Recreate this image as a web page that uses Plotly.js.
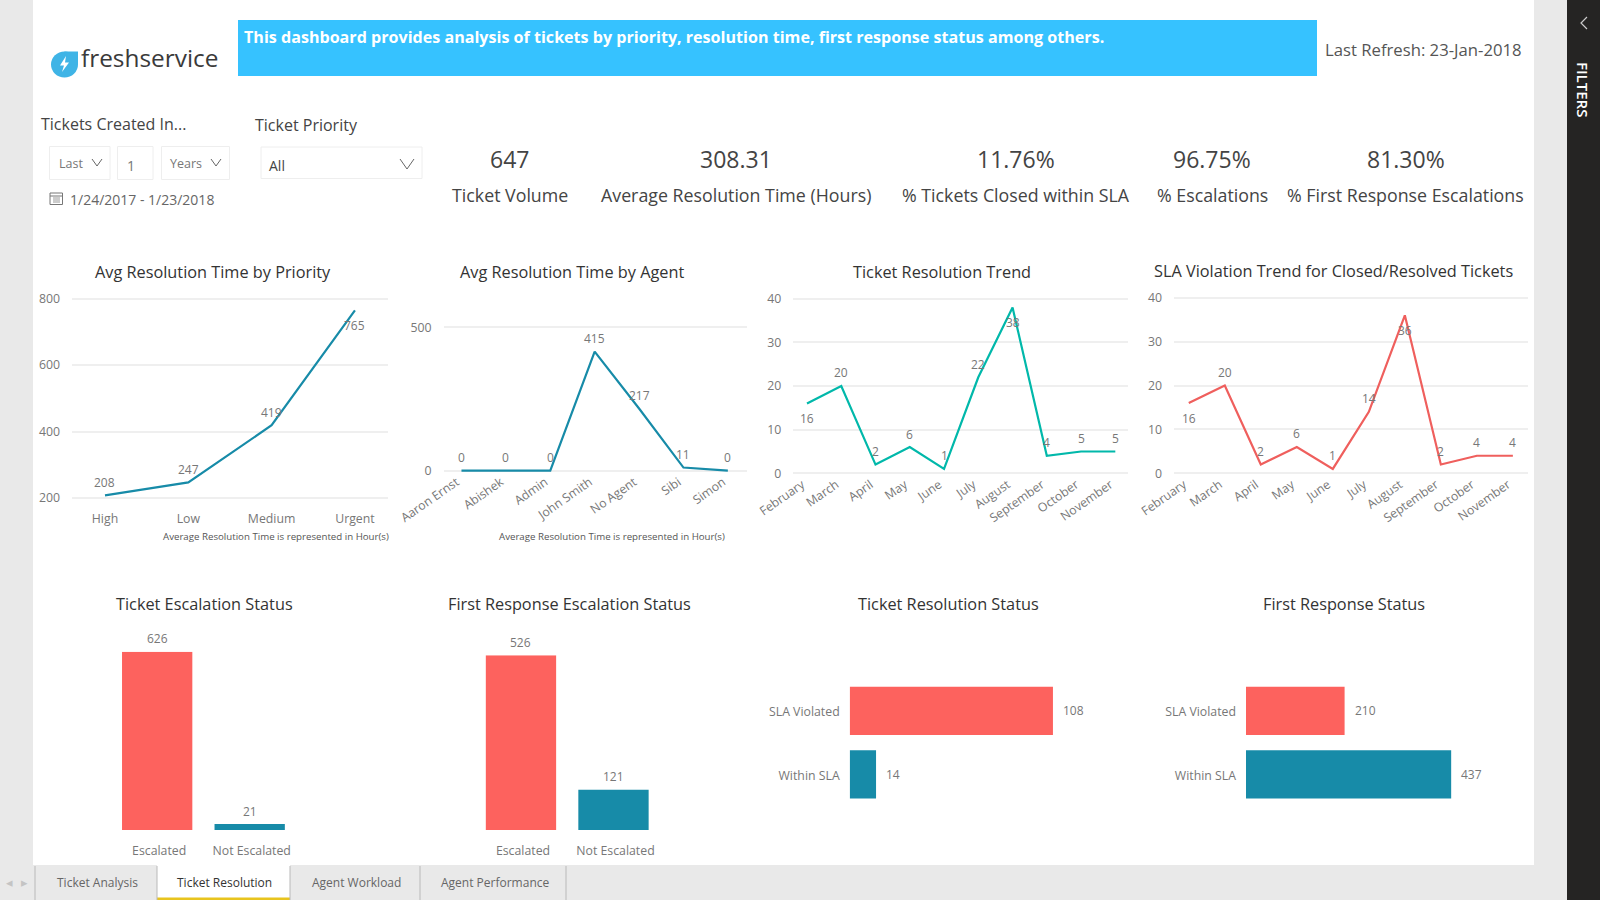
<!DOCTYPE html>
<html><head><meta charset="utf-8">
<script src="https://cdn.plot.ly/plotly-3.0.1.min.js"></script>
<style>html,body{margin:0;padding:0;background:#e9e9e9;overflow:hidden}#g{width:1600px;height:900px}</style>
</head><body><div id="g"></div>
<script>
// ---- data ----
var priorityCats = ['High','Low','Medium','Urgent'];
var priorityHours = [208,247,419,765];
var agentCats = ['Aaron Ernst','Abishek','Admin','John Smith','No Agent','Sibi','Simon'];
var agentHours = [0,0,0,415,217,11,0];
var monthCats = ['February','March','April','May','June','July','August','September','October','November'];
var resolutionTrend = [16,20,2,6,1,22,38,4,5,5];
var slaTrend = [16,20,2,6,1,14,36,2,4,4];
var escCats = ['Escalated','Not Escalated'];
var ticketEsc = [626,21];
var firstEsc = [526,121];
var slaCats = ['SLA Violated','Within SLA'];
var resolutionStatus = [108,14];
var firstStatus = [210,437];
var kpiValues = ['647','308.31','11.76%','96.75%','81.30%'];
var kpiNames = ['Ticket Volume','Average Resolution Time (Hours)','% Tickets Closed within SLA','% Escalations','% First Response Escalations'];
var tabNames = ['Ticket Analysis','Ticket Resolution','Agent Workload','Agent Performance'];

// ---- style ----
var FONT='"Open Sans","Noto Sans",sans-serif', BLUE='#178ba8', TEAL='#01b8aa', RED='#fd625e', REDLINE='#ef5f5d', GRID='#efefef', TICK='#777777', TS=12.3;
var W=1600,H=900;
function px(x){return x/W} function py(y){return 1-y/H}
var layout={width:W,height:H,margin:{l:0,r:0,t:0,b:0},paper_bgcolor:'#e9e9e9',plot_bgcolor:'rgba(0,0,0,0)',showlegend:false,
  font:{family:FONT,color:TICK,size:12},shapes:[],annotations:[],hovermode:false};
var traces=[];
function rect(x0,y0,x1,y1,fill,line){layout.shapes.push({type:'rect',xref:'paper',yref:'paper',layer:'below',x0:px(x0),x1:px(x1),y0:py(y1),y1:py(y0),fillcolor:fill,line:line?{color:line,width:1}:{width:0}});}
function pth(d,color,w,fill){layout.shapes.push({type:'path',xref:'paper',yref:'paper',layer:'below',path:d.replace(/(-?[\d.]+),(-?[\d.]+)/g,function(m,a,b){return px(+a)+','+py(+b)}),line:{color:color,width:w},fillcolor:fill||'rgba(0,0,0,0)'});}
function chev(cx,cy,s,h){pth('M'+(cx-s)+','+(cy-h)+' L'+cx+','+(cy+h)+' L'+(cx+s)+','+(cy-h),'#666',1);}
function T(t,x,y,size,color,anchor,extra){layout.annotations.push(Object.assign({text:t,xref:'paper',yref:'paper',x:px(x),y:py(y),xanchor:anchor||'center',yanchor:'middle',showarrow:false,borderpad:0,font:{family:FONT,size:size,color:color}},extra||{}));}

var axN=0;
function axes(xd,yd,xr,yr,xo,yo){axN++;var s=axN===1?'':axN;
  layout['xaxis'+s]=Object.assign({domain:[px(xd[0]),px(xd[1])],range:xr,anchor:'y'+s,showgrid:false,zeroline:false,showline:false,ticks:'',fixedrange:true,tickfont:{size:TS,color:TICK,family:FONT}},xo||{});
  layout['yaxis'+s]=Object.assign({domain:[py(yd[1]),py(yd[0])],range:yr,anchor:'x'+s,showgrid:false,zeroline:false,showline:false,ticks:'',fixedrange:true,tickfont:{size:TS,color:TICK,family:FONT}},yo||{});
  return s;}
function lineChart(cats,vals,color,xd,yd,xr,yr,dtick,below,tickangle,stand,shift){
  var u=(yr[1]-yr[0])/(yd[1]-yd[0]),pad=3;
  var s=axes(xd,[yd[0]-pad,yd[1]+pad],xr,[yr[0]-pad*u,yr[1]+pad*u],{type:'category',tickangle:tickangle,ticklabelstandoff:stand,ticklabelshift:shift,automargin:false},{tickmode:'linear',tick0:yr[0],dtick:dtick,showgrid:true,gridcolor:GRID,gridwidth:2,ticklabelstandoff:11});
  traces.push({type:'scatter',mode:'lines',x:cats,y:vals,xaxis:'x'+s,yaxis:'y'+s,line:{color:color,width:2.2,shape:'linear'},cliponaxis:false});
  vals.forEach(function(v,i){var b=below.indexOf(i)>=0;
    layout.annotations.push({text:String(v),x:cats[i],y:v,xref:'x'+s,yref:'y'+s,showarrow:false,yanchor:'middle',xanchor:'center',yshift:b?-15:13,borderpad:0,font:{size:12,color:TICK,family:FONT}});});
}
function colChart(cats,vals,xd,yd,xr,yr){
  var s=axes(xd,yd,xr,yr,{type:'category',ticklabelstandoff:12,ticklabelshift:2},{showticklabels:false});
  traces.push({type:'bar',x:cats,y:vals,xaxis:'x'+s,yaxis:'y'+s,width:0.76,marker:{color:[RED,BLUE]},cliponaxis:false});
  vals.forEach(function(v,i){layout.annotations.push({text:String(v),x:cats[i],y:v,xref:'x'+s,yref:'y'+s,showarrow:false,yanchor:'middle',xanchor:'center',yshift:13,borderpad:0,font:{size:12,color:TICK,family:FONT}});});
}
function barChart(cats,vals,xd,yd,xr,yr){
  var s=axes(xd,yd,xr,yr,{showticklabels:false},{type:'category',ticklabelstandoff:9,ticklabelshift:-1});
  traces.push({type:'bar',orientation:'h',x:vals,y:cats,xaxis:'x'+s,yaxis:'y'+s,width:0.76,marker:{color:[RED,BLUE]},cliponaxis:false});
  vals.forEach(function(v,i){layout.annotations.push({text:String(v),x:v,y:cats[i],xref:'x'+s,yref:'y'+s,showarrow:false,yanchor:'middle',xanchor:'left',xshift:9,borderpad:0,font:{size:12,color:TICK,family:FONT}});});
}

// ---- page chrome ----
rect(33,0,1534,865,'#ffffff');
rect(0,865,1567,900,'#e9e9e9');
rect(1567,0,1600,900,'#252423');
rect(157,865,290,900,'#ffffff');
rect(157,897.5,290,900,'#e8c41e');
[35,157,290,420,566].forEach(function(x){pth('M'+x+',866 L'+x+',900','#b9b9b9',1);});
var tabX=[97,224,356,495];
tabNames.forEach(function(t,i){T(t,tabX[i],882.5,12,i===1?'#333333':'#666666');});
T('◂',9,882,13,'#c4c4c4');T('▸',24,882,13,'#c4c4c4');
// banner
rect(238,20,1317,76,'#36c2ff');
T('This dashboard provides analysis of tickets by priority, resolution time, first response status among others.',243,36.5,16.1,'#ffffff','left',{font:{family:FONT,size:16.1,color:'#ffffff',weight:700}});
T('Last Refresh: 23-Jan-2018',1523,49.5,16.7,'#555555','right');
// logo
layout.shapes.push({type:'circle',xref:'paper',yref:'paper',layer:'below',x0:px(51),x1:px(78),y0:py(77.5),y1:py(51.5),fillcolor:'#3fb4e6',line:{width:0}});
rect(64.5,51.5,78,64.5,'#3fb4e6');
pth('M66,56 L60,65.5 L64,65.5 L62,72 L69,62.5 L65,62.5 Z','#ffffff',0,'#ffffff');
T('freshservice',80,57.5,24.4,'#3a3a3a','left');
// slicers
T('Tickets Created In...',39.5,124.5,16,'#444444','left');
T('Ticket Priority',254,125,16,'#444444','left');
rect(49.5,146.5,110,179.5,'#ffffff','#eeeeee');
rect(117.5,146.5,153,179.5,'#ffffff','#eeeeee');
rect(161.5,146.5,229.5,179.5,'#ffffff','#eeeeee');
rect(261,147,422,178.5,'#ffffff','#eeeeee');
T('Last',58,163.5,12.5,'#777777','left');T('1',131,165,14,'#777777');T('Years',168.5,163.5,12.5,'#777777','left');
chev(97,162.5,5,3.5);chev(216,162.5,5,3.5);chev(407,164,7,5);
T('All',268,165.5,14,'#444444','left');
rect(50,193,62.5,204.5,'#ffffff','#777777');
pth('M50,196 L62.5,196','#777777',1);pth('M53,198 L60,198 M53,200 L60,200 M53,202 L60,202','#999999',1);
T('1/24/2017 - 1/23/2018',69,199,14,'#666666','left');
// KPIs
var kpiX=[510,736,1016,1212,1405.5];
kpiValues.forEach(function(v,i){T(v,kpiX[i],159.5,23,'#444444');T(kpiNames[i],kpiX[i],195.5,17.8,'#444444');});
// sidebar
T('FILTERS',1583,89,15,'#ffffff','center',{textangle:90,font:{family:FONT,size:15,color:'#ffffff',weight:600}});
pth('M1587,17 L1581,23 L1587,29','#cccccc',1.2);
// titles
[['Avg Resolution Time by Priority',213.5,272.3],['Avg Resolution Time by Agent',571.5,272.3],['Ticket Resolution Trend',942.3,272],['SLA Violation Trend for Closed/Resolved Tickets',1333,271.3],
 ['Ticket Escalation Status',205,604],['First Response Escalation Status',569,604],['Ticket Resolution Status',948.4,604],['First Response Status',1344.3,604]].forEach(function(t){T(t[0],t[1],t[2],16.3,'#333333');});
T('Average Resolution Time is represented in Hour(s)',275.5,536.5,9.7,'#555555');
T('Average Resolution Time is represented in Hour(s)',612,536.5,9.7,'#555555');

// ---- charts ----
lineChart(priorityCats,priorityHours,BLUE,[72,388],[298.7,498],[-0.396,3.397],[200,800],200,[3],0,9,0);
lineChart(agentCats,agentHours,BLUE,[443.5,746.5],[327.3,470.7],[-0.405,6.42],[0,500],500,[],-35,-2,-5);
lineChart(monthCats,resolutionTrend,TEAL,[793.4,1128],[298.7,473.3],[-0.397,9.37],[0,40],10,[0,6],-35,-2,-5);
lineChart(monthCats,slaTrend,REDLINE,[1174,1528],[297.7,473.3],[-0.41,9.42],[0,40],10,[0,6],-35,-2,-5);
colChart(escCats,ticketEsc,[100,320],[651.7,830],[-0.618,1.76],[0,626]);
colChart(escCats,firstEsc,[465,680],[655.3,830],[-0.605,1.719],[0,526]);
barChart(slaCats,resolutionStatus,[849.7,1100],[680,805],[0,133],[1.483,-0.485]);
barChart(slaCats,firstStatus,[1246,1500],[680,805],[0,541],[1.483,-0.485]);
Plotly.newPlot('g',traces,layout,{displayModeBar:false,staticPlot:true});
</script></body></html>
